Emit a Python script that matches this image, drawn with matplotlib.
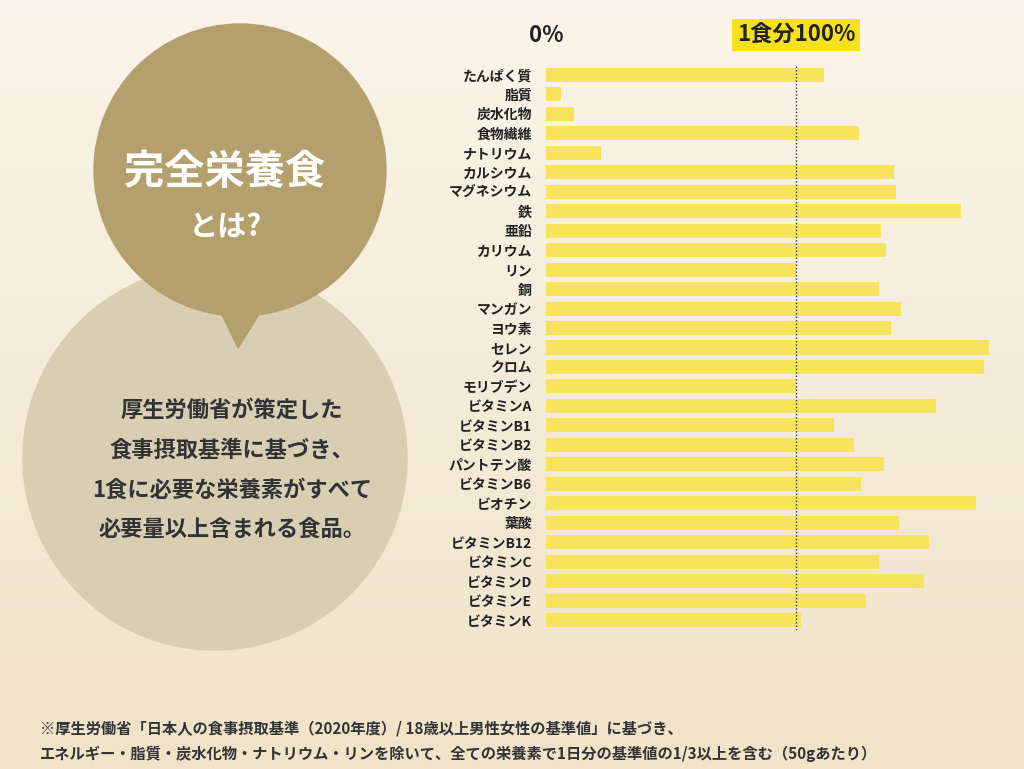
import matplotlib
matplotlib.use("Agg")
import matplotlib.pyplot as plt
import numpy as np
from matplotlib.patches import Circle, Polygon

nutrients = ["たんぱく質","脂質","炭水化物","食物繊維","ナトリウム","カルシウム","マグネシウム","鉄","亜鉛","カリウム",
             "リン","銅","マンガン","ヨウ素","セレン","クロム","モリブデン","ビタミンA","ビタミンB1","ビタミンB2",
             "パントテン酸","ビタミンB6","ビオチン","葉酸","ビタミンB12","ビタミンC","ビタミンD","ビタミンE","ビタミンK"]
percent = [111,6,11,125,22,139,140,166,134,136,100,133,142,138,177,175,100,156,115,123,135,126,172,141,153,133,151,128,102]

FONT = "Noto Sans CJK JP"
plt.rcParams["font.family"] = FONT

fig = plt.figure(figsize=(10.24, 7.69), dpi=100)
fig.patch.set_facecolor("#f6efe0")

bg = fig.add_axes([0, 0, 1, 1])
bg.set_xlim(0, 1024); bg.set_ylim(769, 0); bg.axis("off")
grad = np.linspace(0, 1, 256).reshape(-1, 1)
bg.imshow(grad, extent=[0, 1024, 769, 0], cmap=matplotlib.colors.LinearSegmentedColormap.from_list("g", ["#faf5ea", "#efe3c8"]), aspect="auto", zorder=0)
bg.add_patch(Circle((215, 458), 192, color="#d8ceb4", zorder=1))
bg.add_patch(Circle((240, 170), 146, color="#b4a06c", zorder=2))
bg.add_patch(Polygon([[215, 300], [268, 300], [238, 348]], color="#b4a06c", zorder=2))
bg.text(225, 172, "完全栄養食", color="white", fontsize=29, fontweight="heavy", ha="center", va="center", zorder=3)
bg.text(225, 228, "とは?", color="white", fontsize=21, fontweight="heavy", ha="center", va="center", zorder=3)
for i, line in enumerate(["厚生労働省が策定した", "食事摂取基準に基づき、", "1食に必要な栄養素がすべて", "必要量以上含まれる食品。"]):
    bg.text(232, 410 + i * 40, line, color="#333333", fontsize=16, fontweight="bold", ha="center", va="center", zorder=3)
bg.text(40, 728, "※厚生労働省「日本人の食事摂取基準（2020年度）/ 18歳以上男性女性の基準値」に基づき、", fontsize=11, fontweight="bold", color="#333333", va="center")
bg.text(40, 754, "エネルギー・脂質・炭水化物・ナトリウム・リンを除いて、全ての栄養素で1日分の基準値の1/3以上を含む（50gあたり）", fontsize=11, fontweight="bold", color="#333333", va="center")
bg.text(546, 35, "0%", fontsize=16, fontweight="heavy", ha="center", va="center", color="#222222")
bg.text(796, 35, "1食分100%", fontsize=16, fontweight="heavy", ha="center", va="center", color="#222222",
        bbox=dict(boxstyle="square,pad=0.2", fc="#f7e11a", ec="none"))

ax = fig.add_axes([546/1024, 1 - 630/769, 450/1024, 565/769])
ax.patch.set_alpha(0)
y = np.arange(len(nutrients))
ax.barh(y, percent, height=0.72, color="#f8e45c")
ax.set_xlim(0, 180)
ax.set_ylim(len(nutrients) - 0.5, -0.5)
ax.axvline(100, color="#333333", lw=1, ls=(0, (1, 1.5)))
ax.set_yticks(y)
ax.set_yticklabels(nutrients, fontsize=10, fontweight="heavy", color="#222222")
ax.tick_params(axis="y", length=0, pad=10)
ax.set_xticks([])
for s in ax.spines.values():
    s.set_visible(False)

fig.savefig("out.png", dpi=100)
